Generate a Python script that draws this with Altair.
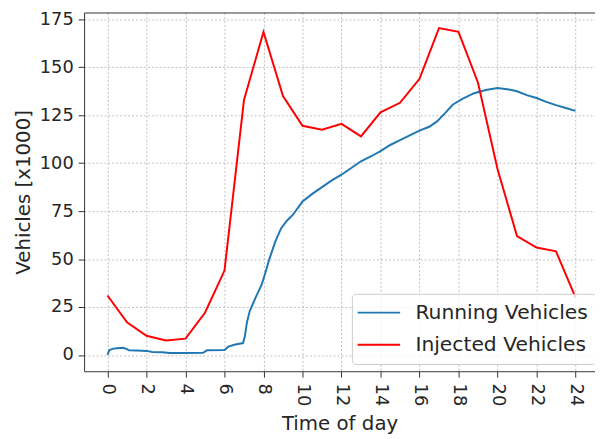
import altair as alt
import pandas as pd

# ---- data ----
hours_injected = list(range(25))
injected = [31, 17, 10, 7.5, 8.5, 22, 44, 133, 168.5, 135, 119.5, 117.5, 120.5,
            114, 126.5, 131.5, 144, 170.5, 168.5, 142, 97, 62, 56, 54, 30]

hours_running = [0.0, 0.1, 0.3, 0.5, 0.8, 1.0, 1.1, 1.5, 2.0, 2.3, 2.8, 3.2, 4.0,
                 4.9, 5.1, 6.0, 6.2, 6.5, 6.95, 7.05, 7.15, 7.3, 7.6, 7.9, 8.1,
                 8.3, 8.6, 8.9, 9.2, 9.5, 10.0, 10.5, 11.0, 11.5, 12.0, 12.5,
                 13.0, 13.5, 14.0, 14.5, 15.0, 15.5, 16.0, 16.5, 16.9, 17.3,
                 17.7, 18.2, 18.8, 19.4, 20.0, 20.5, 21.0, 21.5, 22.0, 22.5,
                 23.0, 23.5, 24.0]
running = [0, 2.6, 3.3, 3.5, 3.7, 3.0, 2.4, 2.3, 2.1, 1.5, 1.4, 1.0, 1.0,
           1.1, 2.4, 2.6, 4.3, 5.3, 6.2, 10, 17, 23, 30, 36.5, 43,
           50, 59, 66, 70, 73, 80, 84, 87.5, 91, 94, 97.5,
           101, 103.5, 106.3, 109.5, 112, 114.5, 117, 119, 121.8, 126,
           130.5, 133.5, 136.5, 138.2, 139.2, 138.6, 137.5, 135.5, 134, 132,
           130.3, 128.8, 127.3]

x_ticks = list(range(0, 25, 2))
y_ticks = [0, 25, 50, 75, 100, 125, 150, 175]
series_names = ["Running Vehicles", "Injected Vehicles"]
series_colors = ["#1f77b4", "#ff0000"]

df = pd.concat([
    pd.DataFrame({"hour": hours_running, "value": running, "series": series_names[0]}),
    pd.DataFrame({"hour": hours_injected, "value": injected, "series": series_names[1]}),
], ignore_index=True)

FONT = "DejaVu Sans"
TXT = "#262626"

x_scale = alt.Scale(domain=[-1.2, 25.0], nice=False, zero=False)
y_scale = alt.Scale(domain=[-8.5, 178.6], nice=False, zero=False)

lines = alt.Chart(df).mark_line(strokeWidth=2).encode(
    x=alt.X("hour:Q", scale=x_scale,
            axis=alt.Axis(values=x_ticks, title="Time of day", labelAngle=90,
                          labelPadding=6, titlePadding=8, labelOverlap=False)),
    y=alt.Y("value:Q", scale=y_scale,
            axis=alt.Axis(values=y_ticks, title="Vehicles [x1000]",
                          labelPadding=5, titlePadding=6, labelOverlap=False)),
    color=alt.Color("series:N",
                    scale=alt.Scale(domain=series_names, range=series_colors),
                    legend=alt.Legend(orient="none", legendX=271, legendY=284.7,
                                      title=None, labelFontSize=20.5, labelFont=FONT,
                                      labelColor=TXT, labelLimit=400,
                                      symbolType="M-2.15,0H2.15",
                                      symbolSize=400, symbolStrokeWidth=2,
                                      symbolFillColor="transparent",
                                      symbolOffset=8.3,
                                      padding=8, rowPadding=10.6, labelOffset=26,
                                      strokeColor="#cccccc", cornerRadius=4,
                                      fillColor="rgba(255,255,255,0.8)")),
)

top = alt.Chart(df).mark_point(opacity=0).encode(
    x=alt.X("hour:Q", scale=x_scale,
            axis=alt.Axis(orient="top", labels=False, ticks=False, grid=False,
                          title=None)),
)

chart = alt.layer(lines, top).resolve_axis(x="independent").properties(
    width=517, height=363,
    autosize=alt.AutoSizeParams(type="none"),
    padding={"left": 77, "top": 2, "right": 0, "bottom": 64},
).configure_view(stroke=None).configure_axis(
    labelFont=FONT, labelFontSize=18, labelColor=TXT,
    titleFont=FONT, titleFontSize=20, titleColor=TXT, titleFontWeight="normal",
    tickColor="#333333", tickSize=6, tickWidth=1,
    domainColor="#333333", domainWidth=1,
    gridColor="#b0b0b0", gridDash=[2, 2], gridWidth=0.8,
)

chart.save("out.html", embed_options={"renderer": "svg", "actions": False})
